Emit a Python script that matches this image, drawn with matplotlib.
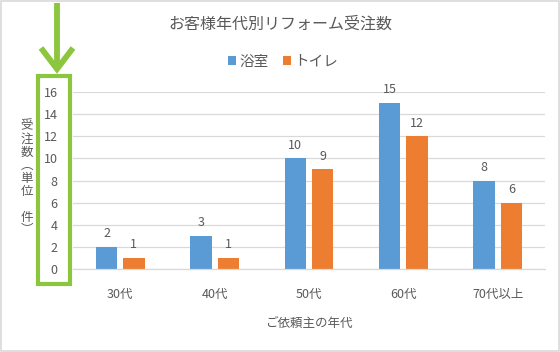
import numpy as np
import matplotlib.pyplot as plt
from matplotlib.patches import Rectangle
from matplotlib.lines import Line2D

plt.rcParams['font.family'] = ['Noto Sans CJK JP', 'DejaVu Sans']

# ---- data ----
categories = ["30代", "40代", "50代", "60代", "70代以上"]
bath = [2, 3, 10, 15, 8]
toilet = [1, 1, 9, 12, 6]
series_names = ["浴室", "トイレ"]
yticks = [0, 2, 4, 6, 8, 10, 12, 14, 16]

BLUE = "#5B9BD5"
ORANGE = "#ED7D31"
TXT = "#595959"
GREEN = "#8CC63E"

W, H = 560, 352
fig = plt.figure(figsize=(W / 100, H / 100), dpi=100)

def fx(px): return px / W
def fy(py): return 1 - py / H

# plot area in pixel coords: left 73, right 545, top 92 (16), bottom 269 (0)
ax = fig.add_axes([fx(73), fy(269), fx(545) - fx(73), fy(92) - fy(269)])

x = np.arange(len(categories))
bw = 0.225
gap = 0.065
b1 = ax.bar(x - bw / 2 - gap / 2, bath, bw, color=BLUE, label=series_names[0])
b2 = ax.bar(x + bw / 2 + gap / 2, toilet, bw, color=ORANGE, label=series_names[1])

for bars, vals in ((b1, bath), (b2, toilet)):
    for r, v in zip(bars, vals):
        ax.text(r.get_x() + r.get_width() / 2, v + 0.6, str(v),
                ha="center", va="bottom", fontsize=9, color=TXT)

ax.set_xlim(-0.5, len(categories) - 0.5)
ax.set_ylim(0, 16)
ax.set_yticks(yticks)
ax.set_xticks(x)
ax.set_xticklabels(categories)
ax.tick_params(axis="both", length=0, labelsize=9, colors=TXT)
ax.tick_params(axis="x", pad=14)
ax.tick_params(axis="y", pad=11)
ax.grid(axis="y", color="#D9D9D9", lw=0.9)
ax.set_axisbelow(True)
for s in ["top", "right", "left"]:
    ax.spines[s].set_visible(False)
ax.spines["bottom"].set_color("#D9D9D9")
ax.spines["bottom"].set_linewidth(0.9)

# title / legend / axis labels
fig.text(fx(280), fy(24), "お客様年代別リフォーム受注数", ha="center", va="center",
         fontsize=11.5, color=TXT)
leg = fig.legend(handles=[b1, b2], labels=series_names, loc="center",
                 bbox_to_anchor=(fx(283), fy(62)), ncol=2, frameon=False,
                 fontsize=10.5, handlelength=0.55, handleheight=0.55,
                 handletextpad=0.2, columnspacing=1.0, labelcolor=TXT)
fig.text(fx(309), fy(323), "ご依頼主の年代", ha="center", va="center",
         fontsize=9, color=TXT)
fig.text(fx(27), fy(178), "受\n注\n数\n︵\n単\n位\n\n件\n︶", ha="center", va="center",
         fontsize=9, color=TXT, linespacing=1.0)

# outer border
fig.patches.append(Rectangle((0.001, 0.002), 0.997, 0.995, transform=fig.transFigure,
                             fill=False, ec="#D9D9D9", lw=1.2))

# green highlight box and arrow
fig.patches.append(Rectangle((fx(38), fy(284)), fx(70) - fx(38), fy(76) - fy(284),
                             transform=fig.transFigure, fill=False, ec=GREEN, lw=3))
fig.lines.append(Line2D([fx(57), fx(57)], [fy(3), fy(68)], transform=fig.transFigure,
                        color=GREEN, lw=4.2, solid_capstyle="butt"))
fig.lines.append(Line2D([fx(41), fx(57), fx(73)], [fy(48), fy(69), fy(48)],
                        transform=fig.transFigure, color=GREEN, lw=4.2,
                        solid_joinstyle="miter", solid_capstyle="butt"))

fig.savefig("out.png", dpi=100)
